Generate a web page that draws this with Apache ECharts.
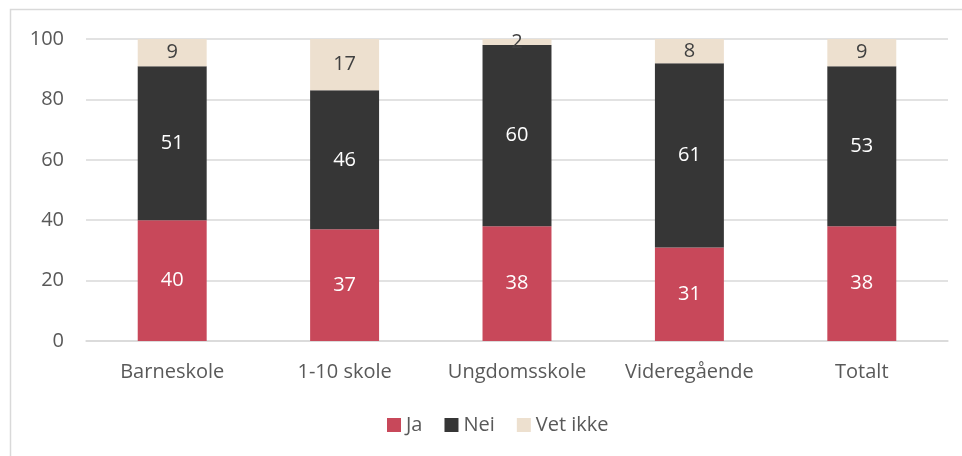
<!DOCTYPE html>
<html><head><meta charset="utf-8">
<script src="https://cdn.jsdelivr.net/npm/echarts@6/dist/echarts.min.js"></script>
<style>html,body{margin:0;padding:0;background:#fff}#c{width:962px;height:456px}</style>
</head><body><div id="c"></div>
<script>
const categories = ['Barneskole', '1-10 skole', 'Ungdomsskole', 'Videregående', 'Totalt'];
const ja = [40, 37, 38, 31, 38];
const nei = [51, 46, 60, 61, 53];
const vetIkke = [9, 17, 2, 8, 9];
const yTicks = {min: 0, max: 100, interval: 20};

const font = '"Open Sans", sans-serif';
const fs = 20;
const chart = echarts.init(document.getElementById('c'), null, {renderer: 'canvas'});
function ser(name, data, color, labelColor) {
  return {
    name, type: 'bar', stack: 'a', data, barWidth: '40%',
    itemStyle: {color},
    label: {show: true, position: 'inside', color: labelColor, fontSize: fs, fontFamily: font},
    emphasis: {disabled: true}
  };
}
chart.setOption({
  animation: false,
  graphic: [{type: 'rect', shape: {x: 10.5, y: 9.5, width: 960, height: 470}, style: {fill: 'none', stroke: '#D9D9D9', lineWidth: 1.5}, silent: true}],
  grid: {left: 86, right: 14, top: 39, bottom: 115, containLabel: false},
  legend: {
    bottom: 16, left: 382, itemWidth: 14, itemHeight: 14, itemGap: 22,
    icon: 'rect',
    textStyle: {fontSize: fs, color: '#595959', fontFamily: font},
    data: ['Ja', 'Nei', 'Vet ikke']
  },
  xAxis: {
    type: 'category', data: categories,
    axisLine: {lineStyle: {color: '#D9D9D9', width: 1.5}},
    axisTick: {show: false},
    axisLabel: {interval: 0, fontSize: fs, color: '#595959', fontFamily: font, margin: 21}
  },
  yAxis: {
    type: 'value', min: yTicks.min, max: yTicks.max, interval: yTicks.interval,
    axisLine: {show: false}, axisTick: {show: false},
    splitLine: {lineStyle: {color: '#D9D9D9', width: 1.5}},
    axisLabel: {fontSize: fs, color: '#595959', fontFamily: font, margin: 22}
  },
  series: [
    ser('Ja', ja, '#C8485A', '#FFFFFF'),
    ser('Nei', nei, '#363636', '#FFFFFF'),
    ser('Vet ikke', vetIkke, '#EDE0CF', '#404040')
  ]
});
</script></body></html>
